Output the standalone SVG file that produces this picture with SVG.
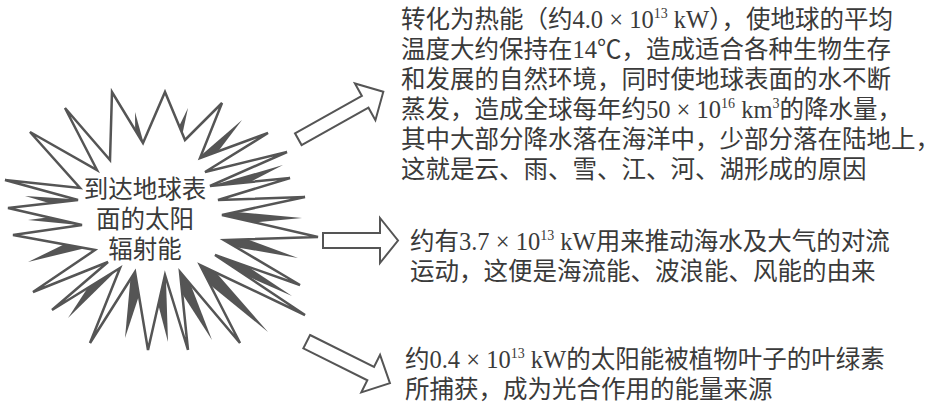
<svg xmlns="http://www.w3.org/2000/svg" width="944" height="410" viewBox="0 0 944 410">
<style>
.t { font-family: "Liberation Serif", "Noto Sans CJK SC", serif; font-size: 24.5px; fill: #3a3a3a; }
.sup { font-size: 14px; }
.star { fill: #ffffff; stroke: #555555; stroke-width: 2.5; stroke-linejoin: miter; stroke-miterlimit: 4; }
.dark { fill: #555555; }
.arrow { fill: #ffffff; stroke: #555555; stroke-width: 2; stroke-linejoin: miter; }
</style>
<rect width="944" height="410" fill="#ffffff"/>
<g id="starburst">
  <g class="dark">
    <polygon points="135,112 163.9,216 136.1,220"/>
    <polygon points="188,108 163.3,222.6 136.7,213.4"/>
    <polygon points="242,120 160.2,227.7 139.8,208.3"/>
    <polygon points="283,165 155.2,231 144.8,205"/>
    <polygon points="302,218 150,232 150,204"/>
    <polygon points="298,258 146.4,231.6 153.6,204.4"/>
    <polygon points="292,296 142.9,230 157.1,206"/>
    <polygon points="268,332 140.3,228 159.7,208"/>
    <polygon points="212,340 137.5,224.3 162.5,211.7"/>
    <polygon points="168,342 136.1,220 163.9,216"/>
    <polygon points="125,338 136.3,215.2 163.7,220.8"/>
    <polygon points="68,318 139.2,209 160.8,227"/>
    <polygon points="28,262 145.2,204.8 154.8,231.2"/>
    <polygon points="28,220 150,204 150,232"/>
    <polygon points="25,196 152.4,204.3 147.6,231.7"/>
  </g>
  <polygon class="star" points="5,180 80,188 30,132 97,170 65,108 110,160 112,92 143,143 165,92 185,140 222,103 200,158 268,133 205,172 287,152 210,186 290,178 218,200 305,197 222,215 318,237 224,240 300,285 215,255 305,315 200,265 240,343 180,272 188,350 165,275 148,350 135,272 90,343 120,268 52,310 108,262 33,292 95,250 13,235 82,225 8,208 78,200"/>
  <text class="t" text-anchor="middle" x="145" y="197.5">到达地球表</text>
  <text class="t" text-anchor="middle" x="145" y="227.5">面的太阳</text>
  <text class="t" text-anchor="middle" x="145" y="257.5">辐射能</text>
</g>
<g id="text-heat">
  <text class="t" x="401" y="27.5">转化为热能（约4.0 × 10<tspan class="sup" dy="-10">13</tspan><tspan dy="10"> kW），使地球的平均</tspan></text>
  <text class="t" x="401" y="57.5">温度大约保持在14℃，造成适合各种生物生存</text>
  <text class="t" x="401" y="87.5">和发展的自然环境，同时使地球表面的水不断</text>
  <text class="t" x="401" y="117.5">蒸发，造成全球每年约50 × 10<tspan class="sup" dy="-10">16</tspan><tspan dy="10"> km</tspan><tspan class="sup" dy="-10">3</tspan><tspan dy="10">的降水量，</tspan></text>
  <text class="t" x="401" y="147.5">其中大部分降水落在海洋中，少部分落在陆地上，</text>
  <text class="t" x="401" y="177.5">这就是云、雨、雪、江、河、湖形成的原因</text>
</g>
<g id="text-convection">
  <text class="t" x="410" y="249.5">约有3.7 × 10<tspan class="sup" dy="-10">13</tspan><tspan dy="10"> kW用来推动海水及大气的对流</tspan></text>
  <text class="t" x="410" y="279.5">运动，这便是海流能、波浪能、风能的由来</text>
</g>
<g id="text-photosynthesis">
  <text class="t" x="405" y="367.5">约0.4 × 10<tspan class="sup" dy="-10">13</tspan><tspan dy="10"> kW的太阳能被植物叶子的叶绿素</tspan></text>
  <text class="t" x="405" y="397.5">所捕获，成为光合作用的能量来源</text>
</g>
<g id="connectors">
  <polygon class="arrow" transform="translate(298.3,139.2) rotate(-29.2)" points="0,-6.75 76.6,-6.75 76.6,-21 97.4,0 76.6,21 76.6,6.75 0,6.75"/>
  <polygon class="arrow" points="323,233 380,233 380,218 398,240.5 380,263 380,248 323,248"/>
  <polygon class="arrow" transform="translate(306.7,341.7) rotate(26.5)" points="0,-7.5 71.5,-7.5 71.5,-21 93,0 71.5,21 71.5,7.5 0,7.5"/>
</g>
</svg>
